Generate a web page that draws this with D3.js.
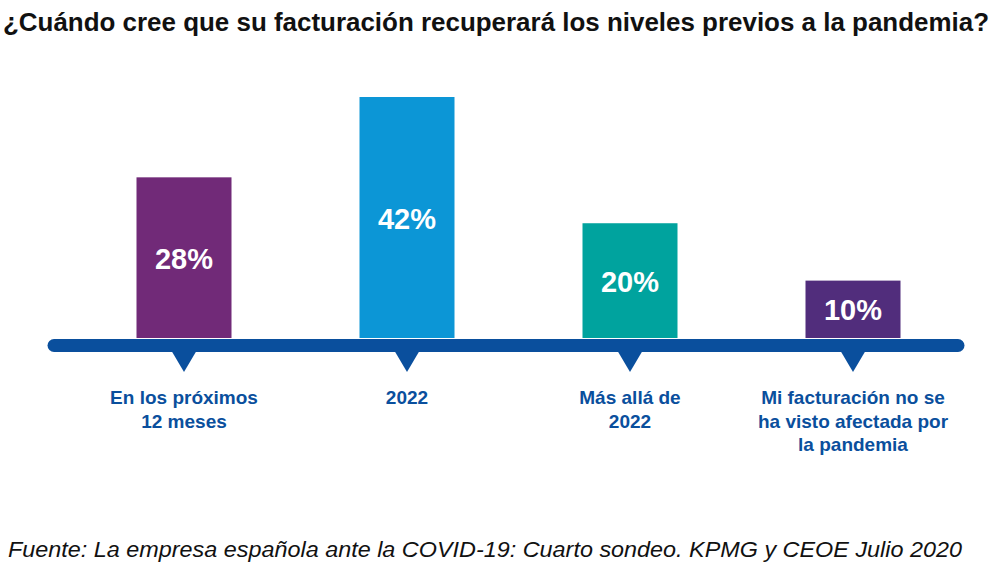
<!DOCTYPE html>
<html><head><meta charset="utf-8">
<script src="https://cdn.jsdelivr.net/npm/d3@7"></script>
<style>body{margin:0;background:#fff}svg{display:block}</style>
</head><body>
<svg id="c" width="1000" height="570"></svg>
<script>
const categories = ["En los próximos\n12 meses", "2022", "Más allá de\n2022", "Mi facturación no se\nha visto afectada por\nla pandemia"];
const values = [28, 42, 20, 10];
const valueLabels = ["28%", "42%", "20%", "10%"];
const barColors = ["#712a78", "#0c96d6", "#00a39e", "#512d7c"];
const title = "¿Cuándo cree que su facturación recuperará los niveles previos a la pandemia?";
const source = "Fuente: La empresa española ante la COVID-19: Cuarto sondeo. KPMG y CEOE Julio 2020";

const svg = d3.select("#c");
const axisBlue = "#0a4f9d";
const baseY = 338;

const x = d3.scaleBand().domain(d3.range(categories.length))
  .range([72.5, 964.5]).paddingInner(0.574).paddingOuter(0.287);
const y = d3.scaleLinear().domain([0, 42]).range([baseY, 97]);

svg.append("text").attr("x", 3).attr("y", 31)
  .attr("font-family", "'Liberation Sans', Arial, sans-serif")
  .attr("font-weight", "bold").attr("font-size", 25).attr("fill", "#111")
  .attr("textLength", 986).attr("lengthAdjust", "spacingAndGlyphs")
  .text(title);

// bars
svg.selectAll("rect.bar").data(values).join("rect").attr("class", "bar")
  .attr("x", (d, i) => x(i)).attr("width", x.bandwidth())
  .attr("y", d => y(d)).attr("height", d => baseY - y(d))
  .attr("fill", (d, i) => barColors[i]);

svg.selectAll("text.val").data(values).join("text").attr("class", "val")
  .attr("x", (d, i) => x(i) + x.bandwidth() / 2)
  .attr("y", d => (y(d) + baseY) / 2 + 11)
  .attr("text-anchor", "middle").attr("fill", "#fff")
  .attr("font-family", "'Liberation Sans', Arial, sans-serif").attr("font-weight", "bold")
  .attr("font-size", 29).text((d, i) => valueLabels[i]);

// axis line
svg.append("line").attr("x1", 54).attr("x2", 958).attr("y1", 345.5).attr("y2", 345.5)
  .attr("stroke", axisBlue).attr("stroke-width", 13).attr("stroke-linecap", "round");

// triangles
svg.selectAll("path.tri").data(values).join("path").attr("class", "tri")
  .attr("d", (d, i) => {
    const cx = x(i) + x.bandwidth() / 2;
    return `M${cx - 13},350 L${cx + 13},350 L${cx},372 Z`;
  }).attr("fill", axisBlue);

// category labels
const lab = svg.selectAll("text.cat").data(categories).join("text").attr("class", "cat")
  .attr("text-anchor", "middle").attr("fill", axisBlue)
  .attr("font-family", "'Liberation Sans', Arial, sans-serif").attr("font-weight", "bold")
  .attr("font-size", 19);
lab.each(function (d, i) {
  const cx = x(i) + x.bandwidth() / 2;
  d3.select(this).selectAll("tspan").data(d.split("\n")).join("tspan")
    .attr("x", cx).attr("y", (t, j) => 404 + j * 23.5).text(t => t);
});

svg.append("text").attr("x", 8).attr("y", 557)
  .attr("font-family", "'Liberation Sans', Arial, sans-serif")
  .attr("font-style", "italic").attr("font-size", 22).attr("fill", "#111")
  .attr("textLength", 954).attr("lengthAdjust", "spacingAndGlyphs")
  .text(source);
</script>
</body></html>
